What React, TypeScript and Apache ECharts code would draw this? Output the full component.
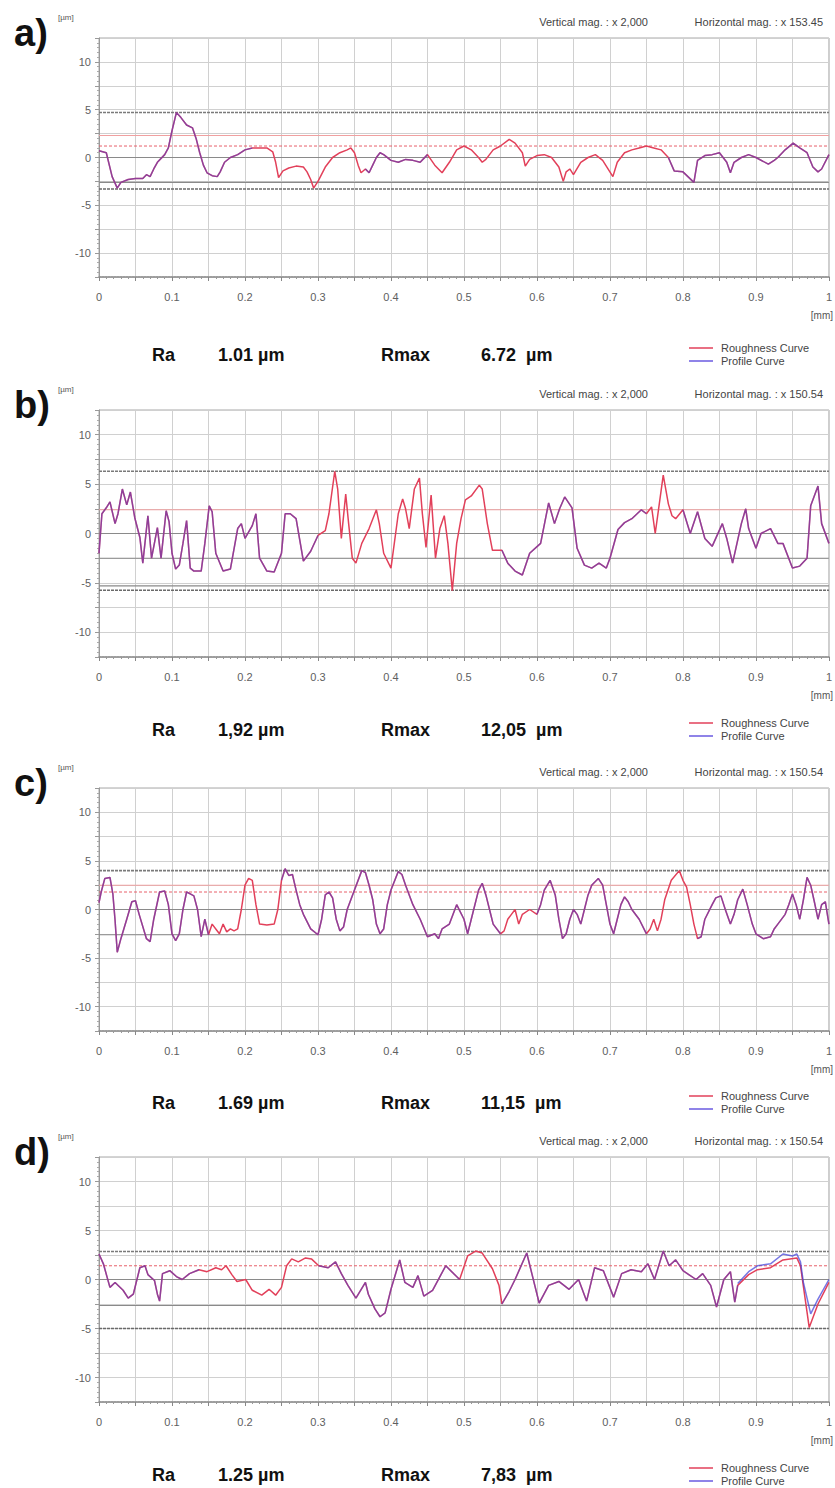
import React, { useEffect, useRef } from "react";
import * as echarts from "echarts";

// ---------------- DATA ----------------
const PANEL_LABELS = ["a)", "b)", "c)", "d)"];
const VERT_MAG = ["Vertical mag. : x 2,000", "Vertical mag. : x 2,000", "Vertical mag. : x 2,000", "Vertical mag. : x 2,000"];
const HORIZ_MAG = ["Horizontal mag. : x 153.45", "Horizontal mag. : x 150.54", "Horizontal mag. : x 150.54", "Horizontal mag. : x 150.54"];
const RA_VALUES = ["1.01 µm", "1,92 µm", "1.69 µm", "1.25 µm"];
const RMAX_VALUES = ["6.72  µm", "12,05  µm", "11,15  µm", "7,83  µm"];
const LEGEND_NAMES = ["Roughness Curve", "Profile Curve"];

// roughness curves [x mm, z µm]
const roughA: number[][] = [[0,0.7],[0.01,0.5],[0.018,-2.0],[0.025,-3.2],[0.03,-2.6],[0.04,-2.3],[0.05,-2.2],[0.06,-2.2],[0.065,-1.8],[0.07,-2.0],[0.075,-1.2],[0.08,-0.5],[0.09,0.3],[0.095,1.0],[0.1,2.8],[0.106,4.7],[0.112,4.2],[0.12,3.4],[0.128,3.1],[0.133,2.0],[0.138,0.5],[0.143,-0.8],[0.148,-1.6],[0.155,-1.9],[0.162,-2.0],[0.166,-1.5],[0.172,-0.5],[0.18,0.0],[0.19,0.3],[0.2,0.8],[0.21,1.0],[0.22,1.0],[0.23,1.0],[0.238,0.6],[0.242,-0.5],[0.246,-2.1],[0.252,-1.4],[0.26,-1.1],[0.27,-0.9],[0.28,-1.0],[0.285,-1.5],[0.29,-2.3],[0.294,-3.2],[0.3,-2.5],[0.31,-1.0],[0.32,0.0],[0.33,0.5],[0.34,0.8],[0.345,1.0],[0.35,0.5],[0.355,-0.8],[0.359,-1.6],[0.365,-1.2],[0.37,-1.6],[0.375,-0.8],[0.38,0.0],[0.385,0.5],[0.39,0.3],[0.4,-0.3],[0.41,-0.5],[0.42,-0.2],[0.43,-0.3],[0.44,-0.5],[0.45,0.3],[0.46,-0.8],[0.47,-1.6],[0.48,-0.5],[0.49,0.8],[0.5,1.2],[0.51,0.8],[0.52,0.0],[0.525,-0.5],[0.53,-0.2],[0.54,0.8],[0.55,1.2],[0.562,1.9],[0.57,1.5],[0.58,0.5],[0.584,-0.9],[0.59,-0.2],[0.6,0.2],[0.61,0.3],[0.62,0.0],[0.63,-1.0],[0.636,-2.5],[0.64,-1.5],[0.645,-1.2],[0.65,-1.8],[0.66,-0.5],[0.67,0.0],[0.68,0.3],[0.69,-0.3],[0.704,-2.0],[0.71,-0.5],[0.72,0.5],[0.73,0.8],[0.74,1.0],[0.75,1.2],[0.76,1.0],[0.77,0.8],[0.78,0.0],[0.788,-1.4],[0.8,-1.5],[0.815,-2.6],[0.82,-0.3],[0.83,0.2],[0.84,0.3],[0.85,0.5],[0.86,-0.5],[0.865,-1.6],[0.87,-0.5],[0.88,0.0],[0.89,0.3],[0.9,0.0],[0.917,-0.7],[0.925,-0.3],[0.93,0.0],[0.94,0.8],[0.951,1.5],[0.96,1.0],[0.97,0.5],[0.978,-1.0],[0.985,-1.5],[0.99,-1.2],[1.0,0.3]];

const roughB: number[][] = [[0,-2.0],[0.004,2.0],[0.01,2.6],[0.015,3.2],[0.022,1.0],[0.026,2.0],[0.032,4.5],[0.038,2.9],[0.043,4.2],[0.049,1.6],[0.056,-0.4],[0.06,-3.0],[0.067,1.8],[0.072,-2.5],[0.08,0.6],[0.085,-2.5],[0.092,2.3],[0.096,1.2],[0.1,-2.0],[0.105,-3.6],[0.11,-3.2],[0.115,-1.0],[0.12,1.3],[0.125,-3.5],[0.13,-3.8],[0.14,-3.8],[0.145,-1.0],[0.151,2.8],[0.155,2.2],[0.16,-2.0],[0.17,-3.8],[0.18,-3.6],[0.19,0.5],[0.195,1.0],[0.2,-0.5],[0.21,0.8],[0.215,2.0],[0.22,-2.5],[0.23,-3.8],[0.24,-3.9],[0.25,-2.0],[0.255,2.0],[0.262,2.0],[0.27,1.5],[0.28,-2.8],[0.29,-1.8],[0.3,-0.2],[0.31,0.3],[0.315,2.0],[0.323,6.3],[0.327,4.5],[0.332,-0.5],[0.338,4.0],[0.342,1.0],[0.347,-2.5],[0.352,-3.0],[0.36,-1.0],[0.37,0.5],[0.38,2.4],[0.384,1.0],[0.39,-2.0],[0.4,-3.5],[0.41,2.0],[0.416,3.5],[0.42,2.5],[0.425,0.5],[0.432,4.5],[0.439,5.6],[0.443,2.0],[0.448,-1.4],[0.455,3.9],[0.461,-2.5],[0.467,0.5],[0.473,1.8],[0.478,-1.0],[0.484,-5.8],[0.49,-1.0],[0.496,1.5],[0.502,3.4],[0.51,3.8],[0.521,4.9],[0.525,4.5],[0.532,1.0],[0.539,-1.7],[0.552,-1.7],[0.56,-3.0],[0.57,-3.8],[0.58,-4.2],[0.59,-2.0],[0.605,-1.0],[0.616,3.1],[0.624,1.0],[0.631,2.5],[0.638,3.7],[0.648,2.6],[0.655,-1.5],[0.665,-3.2],[0.675,-3.5],[0.685,-3.0],[0.695,-3.5],[0.7,-2.5],[0.711,0.4],[0.72,1.1],[0.73,1.5],[0.743,2.4],[0.75,2.0],[0.757,2.7],[0.762,0.0],[0.773,5.9],[0.78,3.0],[0.785,1.8],[0.79,1.5],[0.8,2.4],[0.81,0.0],[0.82,2.2],[0.83,-0.5],[0.84,-1.3],[0.854,1.0],[0.86,-0.5],[0.868,-3.0],[0.88,1.0],[0.886,2.5],[0.89,0.5],[0.9,-1.5],[0.907,0.0],[0.92,0.5],[0.93,-1.0],[0.937,-1.0],[0.95,-3.5],[0.96,-3.3],[0.97,-2.5],[0.975,2.8],[0.985,4.8],[0.99,1.0],[1.0,-1.0]];

const roughC: number[][] = [[0,0.7],[0.003,1.8],[0.008,3.2],[0.015,3.3],[0.019,1.6],[0.022,-1.1],[0.025,-4.4],[0.03,-3.0],[0.038,-1.0],[0.045,0.8],[0.05,0.9],[0.055,-0.5],[0.065,-3.0],[0.07,-3.3],[0.075,-1.0],[0.083,1.8],[0.09,1.9],[0.095,0.5],[0.1,-2.5],[0.105,-3.2],[0.11,-2.5],[0.115,0.0],[0.12,1.8],[0.125,1.6],[0.13,1.4],[0.135,0.0],[0.14,-2.8],[0.145,-1.0],[0.15,-2.6],[0.155,-1.5],[0.16,-2.0],[0.165,-2.5],[0.17,-1.5],[0.175,-2.3],[0.18,-2.0],[0.185,-2.2],[0.19,-2.0],[0.195,0.0],[0.2,2.5],[0.205,3.2],[0.21,3.0],[0.215,0.5],[0.22,-1.5],[0.23,-1.6],[0.24,-1.5],[0.245,0.0],[0.25,3.0],[0.255,4.2],[0.26,3.5],[0.265,3.6],[0.27,2.0],[0.275,0.5],[0.28,-0.5],[0.29,-2.0],[0.3,-2.6],[0.305,-1.0],[0.31,1.5],[0.315,1.8],[0.32,1.2],[0.325,-1.0],[0.33,-2.2],[0.335,-1.8],[0.34,0.0],[0.35,2.0],[0.36,4.0],[0.365,3.8],[0.37,2.5],[0.375,1.0],[0.38,-1.5],[0.385,-2.5],[0.39,-2.0],[0.395,0.5],[0.4,2.0],[0.41,3.9],[0.415,3.6],[0.42,2.5],[0.425,1.5],[0.43,0.5],[0.44,-1.0],[0.45,-2.8],[0.46,-2.5],[0.465,-3.0],[0.47,-2.0],[0.48,-1.5],[0.49,0.5],[0.5,-1.0],[0.505,-2.5],[0.51,-1.0],[0.52,2.0],[0.525,2.7],[0.53,1.5],[0.535,0.0],[0.54,-1.5],[0.55,-2.5],[0.555,-2.2],[0.56,-1.0],[0.565,-0.5],[0.57,0.0],[0.575,-1.5],[0.58,-0.5],[0.59,0.0],[0.6,-0.5],[0.605,0.5],[0.61,2.0],[0.618,3.0],[0.625,1.5],[0.63,-1.0],[0.635,-3.0],[0.64,-2.5],[0.645,-1.0],[0.65,0.0],[0.655,-0.5],[0.66,-1.5],[0.665,0.0],[0.67,1.5],[0.675,2.5],[0.684,3.2],[0.69,2.5],[0.695,0.5],[0.7,-1.5],[0.705,-2.5],[0.71,-1.0],[0.715,0.5],[0.72,1.3],[0.725,0.8],[0.73,0.0],[0.74,-1.0],[0.75,-2.5],[0.755,-2.0],[0.76,-1.0],[0.765,-2.2],[0.77,-1.0],[0.775,1.0],[0.784,3.0],[0.795,4.0],[0.8,3.0],[0.805,2.3],[0.81,0.5],[0.815,-1.5],[0.82,-3.0],[0.825,-2.8],[0.83,-1.0],[0.84,0.5],[0.845,1.2],[0.852,1.4],[0.858,0.0],[0.865,-1.5],[0.87,-0.5],[0.875,1.0],[0.882,2.1],[0.888,0.5],[0.895,-1.5],[0.9,-2.5],[0.91,-3.0],[0.92,-2.8],[0.925,-2.0],[0.93,-1.5],[0.94,-0.5],[0.945,0.5],[0.95,1.6],[0.955,0.5],[0.96,-1.0],[0.965,1.0],[0.97,3.3],[0.975,2.5],[0.98,0.8],[0.985,-1.0],[0.99,0.5],[0.995,0.8],[1.0,-1.5]];

const roughD: number[][] = [[0,2.6],[0.006,1.6],[0.015,-0.8],[0.022,-0.3],[0.033,-1.1],[0.04,-1.9],[0.047,-1.5],[0.056,1.2],[0.063,1.4],[0.067,0.5],[0.076,-0.1],[0.08,-1.5],[0.083,-2.2],[0.087,0.6],[0.097,0.9],[0.106,0.3],[0.114,0.0],[0.124,0.6],[0.137,1.0],[0.148,0.8],[0.16,1.2],[0.168,1.0],[0.174,1.4],[0.182,0.5],[0.189,-0.2],[0.201,0.0],[0.21,-1.1],[0.223,-1.6],[0.233,-1.0],[0.242,-1.6],[0.25,-0.8],[0.257,1.4],[0.264,2.1],[0.273,1.8],[0.283,2.2],[0.291,2.1],[0.301,1.4],[0.314,1.2],[0.324,1.8],[0.332,0.6],[0.341,-0.6],[0.352,-1.9],[0.365,-0.3],[0.369,-1.5],[0.378,-3.0],[0.385,-3.8],[0.392,-3.4],[0.4,-1.0],[0.412,2.0],[0.419,-0.3],[0.43,-0.8],[0.437,0.4],[0.445,-1.7],[0.457,-1.1],[0.475,1.4],[0.494,0.0],[0.505,2.4],[0.516,2.9],[0.525,2.7],[0.539,1.1],[0.548,-0.6],[0.552,-2.5],[0.562,-1.2],[0.57,0.0],[0.586,2.7],[0.593,0.6],[0.603,-2.4],[0.616,-0.6],[0.63,-0.2],[0.644,-1.0],[0.657,0.0],[0.668,-2.2],[0.679,1.2],[0.691,0.9],[0.705,-1.8],[0.716,0.6],[0.729,1.0],[0.743,0.8],[0.752,1.6],[0.761,0.0],[0.773,2.9],[0.781,1.4],[0.79,2.0],[0.8,0.9],[0.808,0.5],[0.818,0.0],[0.827,0.6],[0.838,-0.6],[0.846,-2.8],[0.856,0.0],[0.865,0.8],[0.871,-2.3],[0.875,-0.6],[0.89,0.5],[0.902,1.0],[0.92,1.2],[0.937,2.0],[0.956,2.2],[0.961,1.4],[0.965,-0.7],[0.973,-4.9],[0.985,-2.5],[1.0,-0.3]];

// profile curve where it departs from the roughness curve (panel d tail)
const profileDTail: number[][] = [[0.875,-0.4],[0.89,0.8],[0.902,1.4],[0.92,1.6],[0.937,2.6],[0.95,2.4],[0.956,2.6],[0.961,1.8],[0.965,-0.3],[0.975,-3.5],[0.985,-2.0],[1.0,0.0]];

// x-ranges where the profile curve is visible over the roughness curve
const profileSpansA = [[0, 0.21], [0.36, 0.45], [0.78, 1.0]];
const profileSpansB = [[0, 0.3], [0.55, 0.75], [0.8, 1.0]];
const profileSpansC = [[0, 0.15], [0.25, 0.55], [0.6, 0.75], [0.82, 1.0]];
const profileSpansD = [[0, 0.14], [0.3, 0.5], [0.55, 0.875]];

// horizontal reference lines (µm) and their kinds
const refValuesA = [4.7, 2.3, 1.2, 0, -2.6, -3.3];
const refKindsA = ["peak", "band", "mean", "zero", "lower", "valley"];
const refValuesB = [6.3, 2.4, 0, -2.5, -5.3, -5.75];
const refKindsB = ["peak", "band", "zero", "lower", "lower", "valley"];
const refValuesC = [4.0, 2.5, 1.8, 0, -2.6];
const refKindsC = ["peak", "band", "mean", "zero", "lower"];
const refValuesD = [2.85, 1.4, 0, -2.65, -5.0];
const refKindsD = ["peak", "mean", "zero", "lower", "valley"];

const Y_MIN = -12.5;
const Y_MAX = 12.5;
const X_MIN = 0;
const X_MAX = 1;

// ---------------- LAYOUT / STYLE ----------------
const W = 835;
const H = 1488;
const GRID_TOPS = [38, 410, 788, 1157];
const GRID_HEIGHTS = [239, 247, 243, 245];
const RA_Y = [355, 730, 1103, 1475];
const FONT = '"Liberation Sans", Arial, sans-serif';
const RED = "#e2405a";
const BLUE = "#3c3cd8";

const REF_STYLE: Record<string, any> = {
  peak: { color: "#7a7a7a", width: 1.6, type: [3, 1] },
  valley: { color: "#6a6a6a", width: 1.6, type: [3, 1] },
  zero: { color: "#8a8a8a", width: 1.1, type: "solid" },
  lower: { color: "#8a8a8a", width: 1.1, type: "solid" },
  mean: { color: "#e8606a", width: 1, type: [3, 2] },
  band: { color: "#f0a0a0", width: 1.1, type: "solid" },
};

export default function App() {
  const ref = useRef<HTMLDivElement>(null);

  useEffect(() => {
    if (!ref.current) return;
    const chart = echarts.init(ref.current, undefined, { renderer: "svg" });

    const roughs = [roughA, roughB, roughC, roughD];
    const spans = [profileSpansA, profileSpansB, profileSpansC, profileSpansD];
    const refVals = [refValuesA, refValuesB, refValuesC, refValuesD];
    const refKinds = [refKindsA, refKindsB, refKindsC, refKindsD];
    const tails = [[], [], [], profileDTail];

    const grids: any[] = [];
    const xAxes: any[] = [];
    const yAxes: any[] = [];
    const series: any[] = [];
    const graphics: any[] = [];

    for (let i = 0; i < 4; i++) {
      const top = GRID_TOPS[i];
      const bottom = top + GRID_HEIGHTS[i];
      grids.push({
        left: 99,
        right: 1,
        top,
        height: GRID_HEIGHTS[i],
        show: true,
        borderColor: "#a8a8a8",
        borderWidth: 1,
      });
      xAxes.push({
        type: "value",
        gridIndex: i,
        min: X_MIN,
        max: X_MAX,
        interval: 0.05,
        axisLine: { show: true, onZero: false, lineStyle: { color: "#8c8c8c", type: [2, 1], width: 1.5 } },
        axisTick: { show: true, length: 4, inside: false, lineStyle: { color: "#888" } },
        minorTick: { show: true, splitNumber: 5, length: 2, lineStyle: { color: "#999" } },
        splitLine: { show: true, lineStyle: { color: "#d0d0d0", width: 1 } },
        axisLabel: {
          color: "#606060",
          fontSize: 11,
          fontFamily: FONT,
          margin: 14,
          showMaxLabel: true,
          formatter: (v: number) => {
            const r = Math.round(v * 100);
            if (r % 10 !== 0) return "";
            if (r === 0) return "0";
            if (r === 100) return "1";
            return (r / 100).toFixed(1);
          },
        },
      });
      yAxes.push({
        type: "value",
        gridIndex: i,
        min: Y_MIN,
        max: Y_MAX,
        interval: 2.5,
        axisLine: { show: true, onZero: false, lineStyle: { color: "#9a9a9a" } },
        axisTick: { show: true, length: 4, lineStyle: { color: "#999" } },
        minorTick: { show: true, splitNumber: 5, length: 2, lineStyle: { color: "#aaa" } },
        splitLine: { show: true, lineStyle: { color: "#d0d0d0", width: 1 } },
        axisLabel: {
          color: "#606060",
          fontSize: 11,
          fontFamily: FONT,
          margin: 8,
          formatter: (v: number) => (Math.abs(v % 5) < 1e-9 && Math.abs(v) <= 10 ? String(v) : ""),
        },
      });

      // reference lines
      refVals[i].forEach((v, k) => {
        const st = REF_STYLE[refKinds[i][k]];
        series.push({
          type: "line",
          xAxisIndex: i,
          yAxisIndex: i,
          data: [[X_MIN, v], [X_MAX, v]],
          symbol: "none",
          silent: true,
          z: 1,
          lineStyle: { color: st.color, width: st.width, type: st.type },
        });
      });

      // roughness curve
      series.push({
        name: LEGEND_NAMES[0],
        type: "line",
        xAxisIndex: i,
        yAxisIndex: i,
        data: roughs[i],
        symbol: "none",
        z: 3,
        lineStyle: { color: RED, width: 1.5 },
      });

      // profile curve: visible spans of the roughness trace, plus explicit tail
      const prof = roughs[i].map((p) =>
        spans[i].some((s) => p[0] >= s[0] && p[0] <= s[1]) ? p : [p[0], null]
      );
      series.push({
        name: LEGEND_NAMES[1],
        type: "line",
        xAxisIndex: i,
        yAxisIndex: i,
        data: prof,
        symbol: "none",
        connectNulls: false,
        z: 4,
        lineStyle: { color: BLUE, width: 1.5, opacity: 0.5 },
      });
      if (tails[i].length) {
        series.push({
          name: LEGEND_NAMES[1],
          type: "line",
          xAxisIndex: i,
          yAxisIndex: i,
          data: tails[i],
          symbol: "none",
          z: 4,
          lineStyle: { color: BLUE, width: 1.5, opacity: 0.7 },
        });
      }

      // texts
      graphics.push(
        { type: "text", x: 14, y: top - 5, style: { text: PANEL_LABELS[i], font: `bold 38px ${FONT}`, fill: "#111", textVerticalAlign: "middle" } },
        { type: "text", x: 58, y: top - 21, style: { text: "[µm]", font: `8px ${FONT}`, fill: "#555", textVerticalAlign: "middle" } },
        { type: "text", x: 648, y: top - 16, style: { text: VERT_MAG[i], font: `11px ${FONT}`, fill: "#444", textAlign: "right", textVerticalAlign: "middle" } },
        { type: "text", x: 823, y: top - 16, style: { text: HORIZ_MAG[i], font: `11px ${FONT}`, fill: "#444", textAlign: "right", textVerticalAlign: "middle" } },
        { type: "text", x: 833, y: bottom + 38, style: { text: "[mm]", font: `10px ${FONT}`, fill: "#555", textAlign: "right", textVerticalAlign: "middle" } },
        { type: "text", x: 152, y: RA_Y[i], style: { text: "Ra", font: `bold 18px ${FONT}`, fill: "#111", textVerticalAlign: "middle" } },
        { type: "text", x: 218, y: RA_Y[i], style: { text: RA_VALUES[i], font: `bold 18px ${FONT}`, fill: "#111", textVerticalAlign: "middle" } },
        { type: "text", x: 381, y: RA_Y[i], style: { text: "Rmax", font: `bold 18px ${FONT}`, fill: "#111", textVerticalAlign: "middle" } },
        { type: "text", x: 481, y: RA_Y[i], style: { text: RMAX_VALUES[i], font: `bold 18px ${FONT}`, fill: "#111", textVerticalAlign: "middle" } },
        { type: "line", shape: { x1: 689, y1: RA_Y[i] - 7, x2: 713, y2: RA_Y[i] - 7 }, style: { stroke: RED, lineWidth: 1.5 } },
        { type: "line", shape: { x1: 689, y1: RA_Y[i] + 6, x2: 713, y2: RA_Y[i] + 6 }, style: { stroke: "#6a5ae0", lineWidth: 1.5 } },
        { type: "text", x: 721, y: RA_Y[i] - 7, style: { text: LEGEND_NAMES[0], font: `11px ${FONT}`, fill: "#444", textVerticalAlign: "middle" } },
        { type: "text", x: 721, y: RA_Y[i] + 6, style: { text: LEGEND_NAMES[1], font: `11px ${FONT}`, fill: "#444", textVerticalAlign: "middle" } }
      );
    }

    chart.setOption({
      animation: false,
      backgroundColor: "#ffffff",
      grid: grids,
      xAxis: xAxes,
      yAxis: yAxes,
      series,
      graphic: graphics,
    });

    return () => chart.dispose();
  }, []);

  return <div ref={ref} style={{ position: "absolute", left: 0, top: 0, width: W, height: H }} />;
}
